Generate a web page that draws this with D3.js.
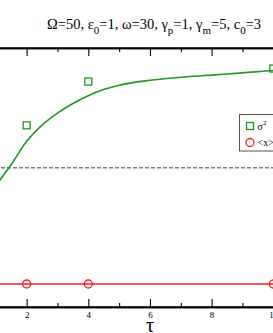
<!DOCTYPE html>
<html>
<head>
<meta charset="utf-8">
<script src="https://cdn.jsdelivr.net/npm/d3@7/dist/d3.min.js"></script>
<style>
  body { margin: 0; background: #fff; }
  svg { display: block; font-family: "Liberation Serif", "DejaVu Serif", serif; }
</style>
</head>
<body>
<script>
// fitted curve
const curveTau = [1.1, 1.5, 2, 2.5, 3, 3.5, 4, 4.5, 5, 6, 7, 8, 9, 10, 11];
const curveVal = [0.883, 1.028, 1.227, 1.367, 1.47, 1.553, 1.62, 1.672, 1.71, 1.752, 1.778, 1.797, 1.816, 1.837, 1.85];

// simulation points
const simTau = [2, 4, 10];
const simVal = [1.365, 1.741, 1.853];

// second series (flat)
const meanTau = [2, 4, 10];
const meanVal = [0, 0, 0];
const meanLine = [0, 11];

const refLevel = 1;
const majorTicks = [2, 4, 6, 8, 10];
const minorTicks = [1, 3, 5, 7, 9, 11];

const width = 273;
const height = 333;

const svg = d3.select('body').append('svg')
  .attr('width', width)
  .attr('height', height);

const x = d3.scaleLinear().domain([0, 11]).range([-35, 304.1]);
const y = d3.scaleLinear().domain([-0.198, 2.03]).range([307, 48]);

const green = '#1f9a1f';
const red = '#ff1a1a';

// frame
svg.append('rect')
  .attr('x', x(0)).attr('y', y(2.03))
  .attr('width', x(11) - x(0)).attr('height', y(-0.198) - y(2.03))
  .attr('fill', 'none').attr('stroke', '#000').attr('stroke-width', 1.3);

// bottom axis
const bottomAxis = svg.append('g').attr('transform', `translate(0,${y(-0.198)})`);
bottomAxis.call(d3.axisBottom(x).tickValues(majorTicks).tickSizeInner(-8).tickSizeOuter(0).tickPadding(4.5));
bottomAxis.append('g').call(d3.axisBottom(x).tickValues(minorTicks).tickSizeInner(-4).tickSizeOuter(0).tickFormat(''));
bottomAxis.selectAll('.domain').attr('stroke-width', 1.3);
bottomAxis.selectAll('.tick line').attr('stroke-width', 1.1);
bottomAxis.selectAll('.tick text')
  .attr('font-family', '"Liberation Serif", serif')
  .attr('font-size', 9)
  .attr('fill', '#000');

// top axis
const topAxis = svg.append('g').attr('transform', `translate(0,${y(2.03)})`);
topAxis.call(d3.axisTop(x).tickValues(majorTicks).tickSizeInner(-8).tickSizeOuter(0).tickFormat(''));
topAxis.append('g').call(d3.axisTop(x).tickValues(minorTicks).tickSizeInner(-4).tickSizeOuter(0).tickFormat(''));
topAxis.selectAll('.domain').attr('stroke-width', 1.3);
topAxis.selectAll('.tick line').attr('stroke-width', 1.1);

// x label
svg.append('text')
  .attr('x', x(6)).attr('y', 331.5)
  .attr('text-anchor', 'middle')
  .attr('font-size', 20)
  .text('τ');

// title
const title = svg.append('text')
  .attr('x', 47).attr('y', 29.3)
  .attr('font-size', 14.5);
const parts = [
  ['Ω=50, ε', ''], ['0', 'sub'], ['=1, ω=30, γ', ''], ['p', 'sub'],
  ['=1, γ', ''], ['m', 'sub'], ['=5, c', ''], ['0', 'sub'], ['=3', '']
];
parts.forEach(([t, k], i) => {
  const s = title.append('tspan').text(t);
  if (k === 'sub') s.attr('font-size', 11).attr('dy', 4.5);
  else s.attr('dy', i > 0 ? -4.5 : 0);
});

const plot = svg.append('g');

// reference dashed line
plot.append('line')
  .attr('x1', x(0)).attr('x2', x(11))
  .attr('y1', y(refLevel)).attr('y2', y(refLevel))
  .attr('stroke', '#808080').attr('stroke-width', 1.3)
  .attr('stroke-dasharray', '4,2');

// green fitted curve
const curveData = curveTau.map((t, i) => ({ t, v: curveVal[i] }));
plot.append('path')
  .datum(curveData)
  .attr('fill', 'none')
  .attr('stroke', green)
  .attr('stroke-width', 1.6)
  .attr('d', d3.line().x(d => x(d.t)).y(d => y(d.v)).curve(d3.curveMonotoneX));

// red flat line
plot.append('line')
  .attr('x1', x(meanLine[0])).attr('x2', x(meanLine[1]))
  .attr('y1', y(0)).attr('y2', y(0))
  .attr('stroke', red).attr('stroke-width', 1.6);

// squares
plot.selectAll('.sq')
  .data(simTau.map((t, i) => ({ t, v: simVal[i] })))
  .enter().append('rect')
  .attr('class', 'sq')
  .attr('x', d => x(d.t) - 3.5).attr('y', d => y(d.v) - 3.5)
  .attr('width', 7).attr('height', 7)
  .attr('fill', 'none').attr('stroke', green).attr('stroke-width', 1.3);

// circles
plot.selectAll('.ci')
  .data(meanTau.map((t, i) => ({ t, v: meanVal[i] })))
  .enter().append('circle')
  .attr('class', 'ci')
  .attr('cx', d => x(d.t)).attr('cy', d => y(d.v))
  .attr('r', 4)
  .attr('fill', 'none').attr('stroke', red).attr('stroke-width', 1.3);

// legend
const lg = svg.append('g').attr('transform', 'translate(239.5,114.5)');
lg.append('rect')
  .attr('width', 60).attr('height', 36.5)
  .attr('fill', '#fff').attr('stroke', '#555').attr('stroke-width', 1);
lg.append('rect')
  .attr('x', 7).attr('y', 8).attr('width', 7).attr('height', 7)
  .attr('fill', 'none').attr('stroke', green).attr('stroke-width', 1.3);
lg.append('circle')
  .attr('cx', 10.5).attr('cy', 28).attr('r', 4)
  .attr('fill', 'none').attr('stroke', red).attr('stroke-width', 1.3);
const t1 = lg.append('text').attr('x', 18).attr('y', 15.5).attr('font-size', 10);
t1.append('tspan').text('σ');
t1.append('tspan').text('2').attr('font-size', 7).attr('dy', -5);
lg.append('text').attr('x', 18).attr('y', 31).attr('font-size', 10).text('<x>');
</script>
</body>
</html>
